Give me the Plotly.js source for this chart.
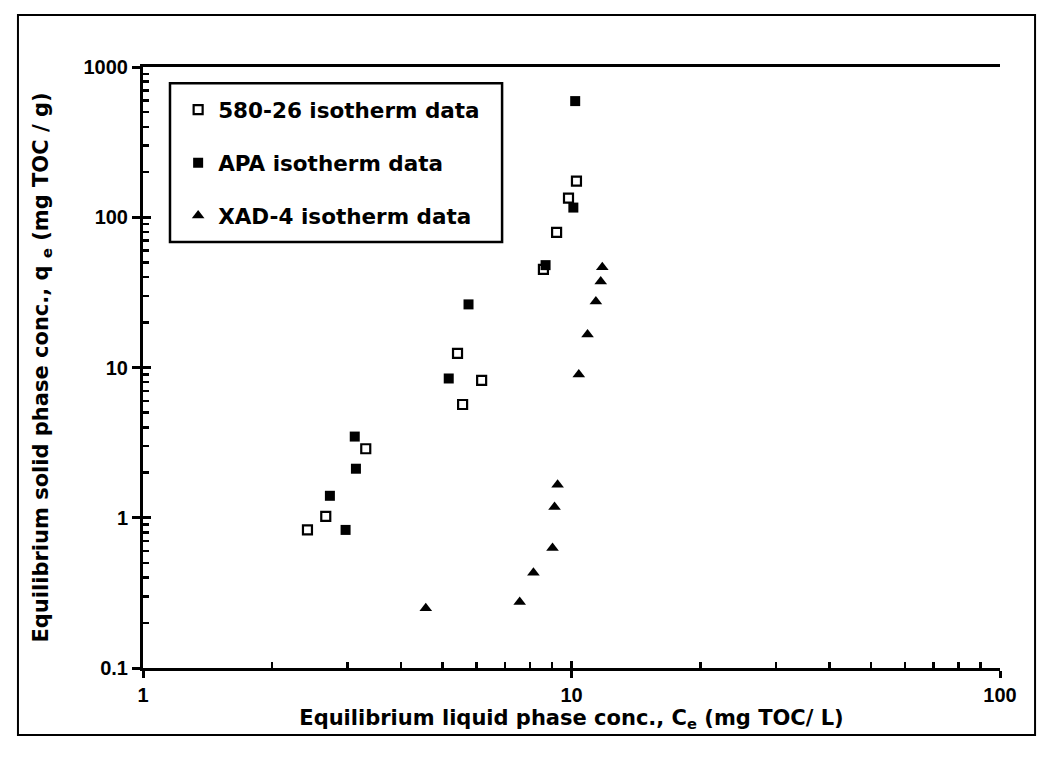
<!DOCTYPE html>
<html>
<head>
<meta charset="utf-8">
<script src="https://cdn.plot.ly/plotly-3.0.1.min.js"></script>
<style>html,body{margin:0;padding:0;background:#fff;}#chart{width:1050px;height:758px;}</style>
</head>
<body>
<div id="chart"></div>
<script>
// 580-26 isotherm data (open squares)
const x580 = [2.42, 2.67, 3.31, 5.42, 5.57, 6.17, 8.6, 9.23, 9.84, 10.27];
const y580 = [0.83, 1.02, 2.88, 12.4, 5.67, 8.2, 45, 79.4, 134, 174];
// APA isotherm data (filled squares)
const xAPA = [2.73, 2.97, 3.12, 3.14, 5.17, 5.75, 8.7, 10.1, 10.2];
const yAPA = [1.40, 0.83, 3.47, 2.12, 8.45, 26.3, 48, 116, 593];
// XAD-4 isotherm data (triangles)
const xXAD = [4.57, 7.57, 8.15, 9.03, 9.13, 9.28, 10.4, 10.9, 11.4, 11.7, 11.8];
const yXAD = [0.25, 0.275, 0.43, 0.63, 1.18, 1.66, 8.98, 16.6, 27.5, 37.4, 46.4];

const names = ["580-26 isotherm data", "APA isotherm data", "XAD-4 isotherm data"];
const xTicks = [1, 10, 100];
const yTicks = [0.1, 1, 10, 100, 1000];

// minor tick positions: 2..9 within each decade
function minorVals(decades) {
  const out = [];
  decades.forEach(d => { for (let k = 2; k <= 9; k++) out.push(d * k); });
  return out;
}
const xMinor = minorVals([1, 10]);
const yMinor = minorVals([0.1, 1, 10, 100]);

const FONT = "Liberation Sans, Arial, sans-serif";
const WIDE = "DejaVu Sans, Verdana, sans-serif";

const traces = [
  {x: x580, y: y580, name: names[0], legendgroup: "a", type: "scatter", mode: "markers",
   marker: {symbol: "square-open", size: 9, color: "#000", line: {width: 2.2, color: "#000"}}},
  {x: xAPA, y: yAPA, name: names[1], legendgroup: "b", type: "scatter", mode: "markers",
   marker: {symbol: "square", size: 10, color: "#000"}},
  {x: xXAD, y: yXAD, name: names[2], legendgroup: "c", type: "scatter", mode: "markers",
   marker: {symbol: "triangle-up", size: 11, color: "#000"}},
  {x: [1, 100], y: [0.1, 0.1], xaxis: "x2", yaxis: "y2", type: "scatter", mode: "markers",
   marker: {opacity: 0}, showlegend: false, hoverinfo: "skip"}
];

const layout = {
  width: 1050, height: 758,
  paper_bgcolor: "#fff", plot_bgcolor: "#fff",
  margin: {l: 143, r: 50, t: 67, b: 90, pad: 0},
  font: {family: FONT, color: "#000", size: 17},
  showlegend: true,
  legend: {
    x: 0.041, y: 0.963, xanchor: "left", yanchor: "top",
    borderwidth: 0, bgcolor: "rgba(0,0,0,0)",
    font: {family: WIDE, size: 21.5, color: "#000", weight: "bold"},
    tracegroupgap: 22, itemwidth: 30
  },
  xaxis: {
    type: "log", range: [0, 2], tickvals: xTicks, ticktext: xTicks.map(String),
    showgrid: false, zeroline: false, showline: true, linewidth: 3, linecolor: "#000",
    mirror: true, ticks: "outside", ticklen: 7, tickwidth: 3, tickcolor: "#000",
    minor: {tickmode: "array", tickvals: xMinor, ticks: "inside", ticklen: 6, tickwidth: 2.5, tickcolor: "#000", showgrid: false},
    tickfont: {family: FONT, size: 20, weight: "bold"},
    title: {text: "Equilibrium liquid phase conc., C<sub>e</sub> (mg TOC/ L)", standoff: 0,
            font: {family: WIDE, size: 21, weight: "bold"}}
  },
  yaxis: {
    type: "log", range: [-1, 3], tickvals: yTicks, ticktext: ["0.1", "1", "10", "100", "1000"],
    showgrid: false, zeroline: false, showline: true, linewidth: 3, linecolor: "#000",
    ticks: "outside", ticklen: 8, tickwidth: 3, tickcolor: "#000",
    minor: {tickmode: "array", tickvals: yMinor, ticks: "inside", ticklen: 6, tickwidth: 2.5, tickcolor: "#000", showgrid: false},
    tickfont: {family: FONT, size: 20, weight: "bold"},
    title: {text: "Equilibrium solid phase conc., q <sub>e</sub> (mg TOC / g)", standoff: 30,
            font: {family: WIDE, size: 21, weight: "bold"}}
  },
  xaxis2: {type: "log", range: [0, 2], overlaying: "x", anchor: "y2", side: "bottom",
    tickvals: xTicks, showticklabels: false, ticks: "inside", ticklen: 7, tickwidth: 3, tickcolor: "#000",
    showgrid: false, zeroline: false, showline: false},
  yaxis2: {type: "log", range: [-1, 3], overlaying: "y", anchor: "x2", side: "left",
    tickvals: yTicks, showticklabels: false, ticks: "inside", ticklen: 8, tickwidth: 3, tickcolor: "#000",
    showgrid: false, zeroline: false, showline: false},
  shapes: [
    // outer frame of the figure
    {type: "rect", xref: "paper", yref: "paper", x0: -0.1459, x1: 1.0409, y0: -0.1115, y1: 1.0865,
     line: {color: "#000", width: 2}, fillcolor: "rgba(0,0,0,0)", layer: "below"},
    // legend box
    {type: "rect", xref: "paper", yref: "paper", x0: 0.0315, x1: 0.419, y0: 0.709, y1: 0.973,
     line: {color: "#000", width: 2.5}, fillcolor: "rgba(0,0,0,0)", layer: "above"}
  ]
};

Plotly.newPlot("chart", traces, layout, {displayModeBar: false, staticPlot: true});
</script>
</body>
</html>
